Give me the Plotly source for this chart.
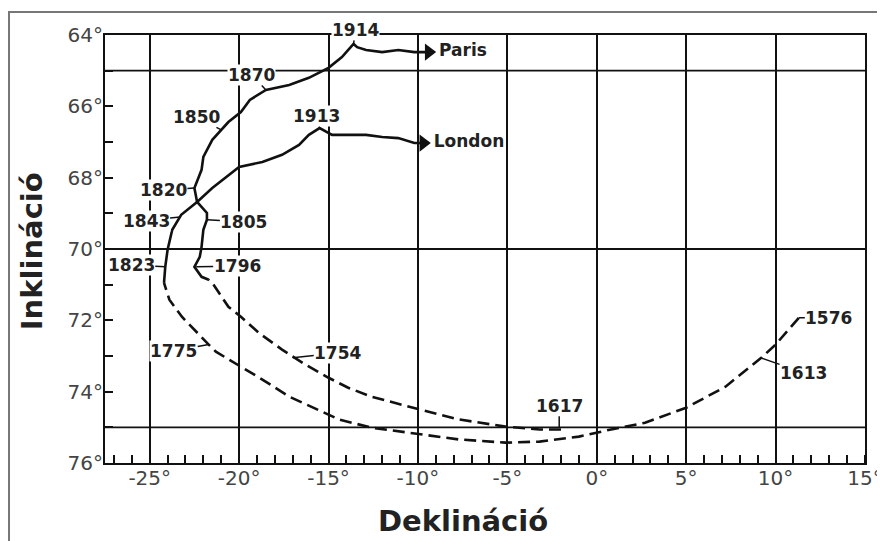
import plotly.graph_objects as go

# London: dashed part 1576 -> 1823, solid part 1823 -> 1913
london_dash_x = [11.3, 10.0, 9.2, 7.2, 5.0, 2.7, 0.8, -1.0, -3.2, -5.1, -7.7, -9.9,
                 -12.6, -14.4, -15.0, -17.2, -18.7, -19.8, -21.3, -21.7, -23.2, -23.9, -24.2]
london_dash_y = [71.93, 72.68, 73.05, 73.86, 74.45, 74.87, 75.06, 75.26, 75.40, 75.43, 75.34, 75.20,
                 75.01, 74.78, 74.64, 74.14, 73.66, 73.33, 72.88, 72.68, 71.90, 71.42, 70.95]
london_solid_x = [-24.2, -24.13, -24.0, -23.74, -23.24, -22.35, -21.5, -20.7, -20.0, -18.7, -17.6,
                  -16.65, -16.1, -15.5, -14.8, -13.85, -12.9, -12.0, -11.1, -10.2, -9.7]
london_solid_y = [70.95, 70.5, 70.02, 69.46, 69.04, 68.68, 68.29, 67.98, 67.70, 67.56, 67.36,
                  67.08, 66.80, 66.61, 66.80, 66.80, 66.80, 66.86, 66.89, 67.03, 67.03]

# Paris: dashed part 1617 -> 1796, solid part 1796 -> 1914
paris_dash_x = [-2.0, -3.2, -5.1, -7.7, -9.9, -12.6, -13.9, -15.0, -16.3, -17.6, -18.9,
                -19.9, -20.6, -21.1, -21.5, -21.7]
paris_dash_y = [75.06, 75.06, 74.98, 74.78, 74.50, 74.14, 73.89, 73.61, 73.24, 72.82, 72.35,
                71.90, 71.62, 71.23, 70.95, 70.86]
paris_solid_x = [-21.7, -22.1, -22.5, -22.2, -22.1, -22.0, -21.8, -21.8, -22.35, -22.5, -22.1,
                 -22.0, -21.5, -21.0, -20.6, -19.9, -19.4, -18.5, -17.2, -16.1, -15.0, -14.25,
                 -13.6, -13.4, -12.9, -12.0, -11.1, -10.2, -9.4]
paris_solid_y = [70.86, 70.78, 70.50, 70.22, 69.94, 69.46, 69.18, 68.99, 68.68, 68.29, 67.78,
                 67.42, 66.94, 66.66, 66.44, 66.16, 65.82, 65.54, 65.40, 65.20, 64.92, 64.62,
                 64.25, 64.34, 64.42, 64.48, 64.42, 64.48, 64.48]

# year labels and the point on the curve they refer to
years = ["1914", "1870", "1850", "1913", "1820", "1843", "1805", "1823", "1796",
         "1775", "1754", "1617", "1613", "1576"]
year_x = [-13.6, -18.5, -21.0, -15.5, -22.5, -23.3, -21.8, -24.13, -22.4,
          -21.7, -17.0, -2.1, 9.16, 11.3]
year_y = [64.25, 65.54, 66.66, 66.61, 68.29, 69.1, 69.18, 70.5, 70.5,
          72.68, 73.05, 75.01, 73.05, 71.93]

cities = ["Paris", "London"]

x_ticks = [-25, -20, -15, -10, -5, 0, 5, 10, 15]
x_tick_text = ["-25°", "-20°", "-15°", "-10°", "-5°", "0°", "5°", "10°", "15°"]
y_ticks = [64, 66, 68, 70, 72, 74, 76]
y_tick_text = ["64°", "66°", "68°", "70°", "72°", "74°", "76°"]
h_lines = [65, 70, 75]

# label offsets (pixels from the curve point to the text centre)
label_ax = [2, -14, -25, -3, -31, -34, 37, -34, 41, -35, 45, 0, 43, 30]
label_ay = [-14, -15, -13, -12, 2, 4, 2, -2, -1, 6, -5, -22, 15, 0]

ink = "#111"
dash = "12px,6px"
fig = go.Figure()

fig.add_trace(go.Scatter(x=london_dash_x, y=london_dash_y, mode="lines",
                         line=dict(color=ink, width=2.6, dash=dash)))
fig.add_trace(go.Scatter(x=paris_dash_x, y=paris_dash_y, mode="lines",
                         line=dict(color=ink, width=2.6, dash=dash)))
fig.add_trace(go.Scatter(x=london_solid_x, y=london_solid_y, mode="lines",
                         line=dict(color=ink, width=2.6)))
fig.add_trace(go.Scatter(x=paris_solid_x, y=paris_solid_y, mode="lines",
                         line=dict(color=ink, width=2.6)))
fig.add_trace(go.Scatter(x=[paris_solid_x[-1], london_solid_x[-1]],
                         y=[paris_solid_y[-1], london_solid_y[-1]],
                         mode="markers+text", text=cities, textposition="middle right",
                         textfont=dict(family="DejaVu Sans", size=17, color="#222", weight="bold"),
                         marker=dict(symbol="triangle-right", size=15, color=ink)))

for yr, x, y, ax, ay in zip(years, year_x, year_y, label_ax, label_ay):
    fig.add_annotation(x=x, y=y, text=yr, showarrow=True, arrowhead=0, arrowwidth=1.5,
                       arrowcolor=ink, ax=ax, ay=ay, standoff=0, bgcolor="white", borderpad=0,
                       font=dict(family="DejaVu Sans", size=17, color="#222", weight="bold"))

for v in h_lines:
    fig.add_hline(y=v, line_color=ink, line_width=1.8, layer="below")

# outer grey frame (page body adds an 8px margin, so the figure is a bit smaller)
fig.add_shape(type="rect", xref="paper", yref="paper", x0=-0.1263, x1=1.06, y0=-0.2, y1=1.0537,
              line=dict(color="#777", width=2), layer="below")

fig.add_annotation(text="Deklináció", xref="paper", yref="paper", x=0.471, y=-0.1355,
                   xanchor="center", yanchor="middle", showarrow=False,
                   font=dict(family="DejaVu Sans", size=29, color="#222", weight="bold"))
fig.add_annotation(text="Inklináció", xref="paper", yref="paper", x=-0.096, y=0.495,
                   xanchor="center", yanchor="middle", textangle=-90, showarrow=False,
                   font=dict(family="DejaVu Sans", size=29, color="#222", weight="bold"))

fig.update_xaxes(range=[-27.5, 15], tickvals=x_ticks, ticktext=x_tick_text, automargin=False,
                 ticks="", showgrid=True, gridcolor=ink, gridwidth=2, zeroline=False,
                 showline=True, linecolor=ink, linewidth=2, mirror=True, ticklabelstandoff=-4,
                 tickfont=dict(family="DejaVu Sans", size=20, color="#444"),
                 minor=dict(dtick=1, ticks="inside", ticklen=8, tickwidth=1.5,
                            tickcolor=ink, showgrid=False))
fig.update_yaxes(range=[76, 64], tickvals=y_ticks, ticktext=y_tick_text, automargin=False,
                 ticks="inside", ticklen=8, tickwidth=1.5, tickcolor=ink,
                 showgrid=False, zeroline=False, ticklabelstandoff=-4,
                 showline=True, linecolor=ink, linewidth=2, mirror=True,
                 tickfont=dict(family="DejaVu Sans", size=20, color="#444"),
                 minor=dict(dtick=1, ticks="inside", ticklen=8, tickwidth=1.5,
                            tickcolor=ink, showgrid=False))

fig.update_layout(width=877, height=533, showlegend=False,
                  margin=dict(l=97, r=20, t=27, b=78),
                  plot_bgcolor="white", paper_bgcolor="white")

fig.write_html("out.html")
